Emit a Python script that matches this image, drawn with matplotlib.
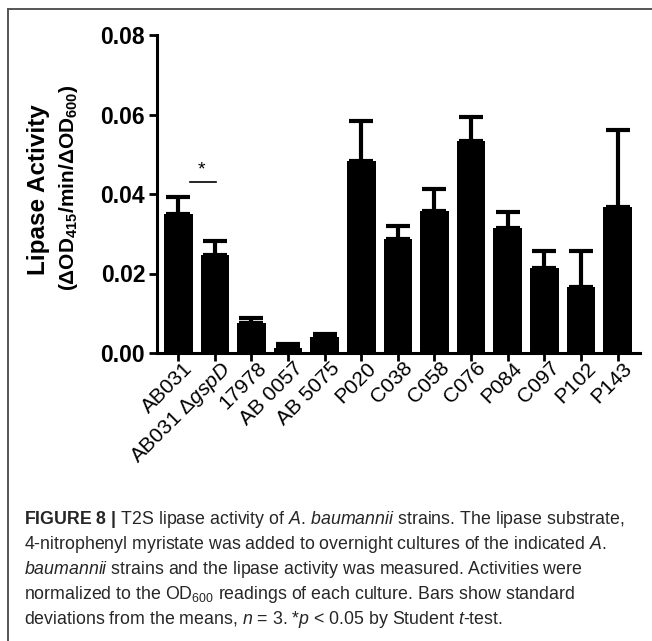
import matplotlib
matplotlib.use('Agg')
import matplotlib.pyplot as plt
import matplotlib.transforms as mtransforms
from matplotlib.lines import Line2D
import numpy as np

plt.rcParams['font.family'] = ['Liberation Sans', 'DejaVu Sans']
plt.rcParams['mathtext.fontset'] = 'custom'
plt.rcParams['mathtext.rm'] = 'Liberation Sans'
plt.rcParams['mathtext.it'] = 'Liberation Sans:italic'
plt.rcParams['mathtext.bf'] = 'Liberation Sans:bold'

strains = ['AB031', r'AB031 $\Delta\mathit{gspD}$', '17978', 'AB 0057', 'AB 5075', 'P020',
           'C038', 'C058', 'C076', 'P084', 'C097', 'P102', 'P143']
activity = [0.0349, 0.0246, 0.0075, 0.0013, 0.0039, 0.0483, 0.0286, 0.0358,
            0.0533, 0.0314, 0.0213, 0.0167, 0.0367]
sd = [0.0044, 0.0037, 0.0014, 0.0009, 0.0009, 0.0101, 0.0034, 0.0054,
      0.0060, 0.0041, 0.0044, 0.0090, 0.0195]
yticks = [0.00, 0.02, 0.04, 0.06, 0.08]

caption = [
    r'$\mathbf{FIGURE\ 8\ |}$ T2S lipase activity of $\mathit{A.\,baumannii}$ strains. The lipase substrate,',
    r'4-nitrophenyl myristate was added to overnight cultures of the indicated $\mathit{A.}$',
    r'$\mathit{baumannii}$ strains and the lipase activity was measured. Activities were',
    r'normalized to the OD$_{\mathrm{600}}$ readings of each culture. Bars show standard',
    r'deviations from the means, $\mathit{n}$ = 3. *$\mathit{p}$ < 0.05 by Student $\mathit{t}$-test.',
]

W, H = 652, 641
fig = plt.figure(figsize=(W / 100, H / 100), dpi=100)
ax = fig.add_axes([157 / W, 1 - 353 / H, (639.5 - 157) / W, (353 - 35) / H])

x = np.arange(len(strains))
ax.bar(x, activity, width=0.78, color='black', edgecolor='none', zorder=2)
ax.errorbar(x, activity, yerr=[np.zeros(len(sd)), sd], fmt='none', ecolor='black',
            elinewidth=3, capsize=8.5, capthick=3, zorder=1)

# significance bar
ax.plot([0.32, 1.03], [0.0431, 0.0431], color='black', lw=1.2, clip_on=False)
ax.text(0.64, 0.0440, '*', ha='center', va='bottom', fontsize=14)

ax.set_xlim(-0.58, 12.6)
ax.set_ylim(0, 0.08)
ax.set_yticks(yticks)
ax.set_yticklabels([f'{v:.2f}' for v in yticks], fontsize=16.5, fontweight='bold')
ax.set_xticks(x)
ax.set_xticklabels([])
# strain labels placed by hand so they sit a bit up/right of each tick, like the original
offset = mtransforms.ScaledTranslation(0.05, -0.055, fig.dpi_scale_trans)
for i, name in zip(x, strains):
    ax.text(i, 0, name, rotation=45, ha='right', va='top', rotation_mode='anchor',
            fontsize=15, transform=ax.get_xaxis_transform() + offset, clip_on=False)
for s in ['top', 'right']:
    ax.spines[s].set_visible(False)
for s in ['left', 'bottom']:
    ax.spines[s].set_linewidth(2.2)
ax.tick_params(direction='out', length=5.5, width=2, pad=3)
ax.tick_params(axis='x', length=6)

fig.text(39 / W, 1 - 190 / H, 'Lipase Activity', rotation=90, ha='center', va='center',
         fontsize=17.5, fontweight='bold')
fig.text(69 / W, 1 - 188 / H, r'(ΔOD$_{\mathbf{415}}$/min/ΔOD$_{\mathbf{600}}$)', rotation=90,
         ha='center', va='center', fontsize=15, fontweight='bold')

# frame lines
fig.add_artist(Line2D([7.5 / W, 1], [1 - 8.5 / H, 1 - 8.5 / H], color='#555555', lw=1.4))
fig.add_artist(Line2D([7.5 / W, 7.5 / W], [1 - 8.5 / H, 0], color='#555555', lw=1.4))

# caption, sized so the first line spans the same width as the original
texts = []
for i, line in enumerate(caption):
    t = fig.text(24 / W, 1 - (524 + 25.1 * i) / H, line, ha='left', va='baseline',
                 fontsize=12, color='#262626')
    texts.append(t)
renderer = fig.canvas.get_renderer()
w1 = texts[0].get_window_extent(renderer).width
size = 12 * 599 / w1
for t in texts:
    t.set_fontsize(size)

fig.savefig('out.png', dpi=100)
